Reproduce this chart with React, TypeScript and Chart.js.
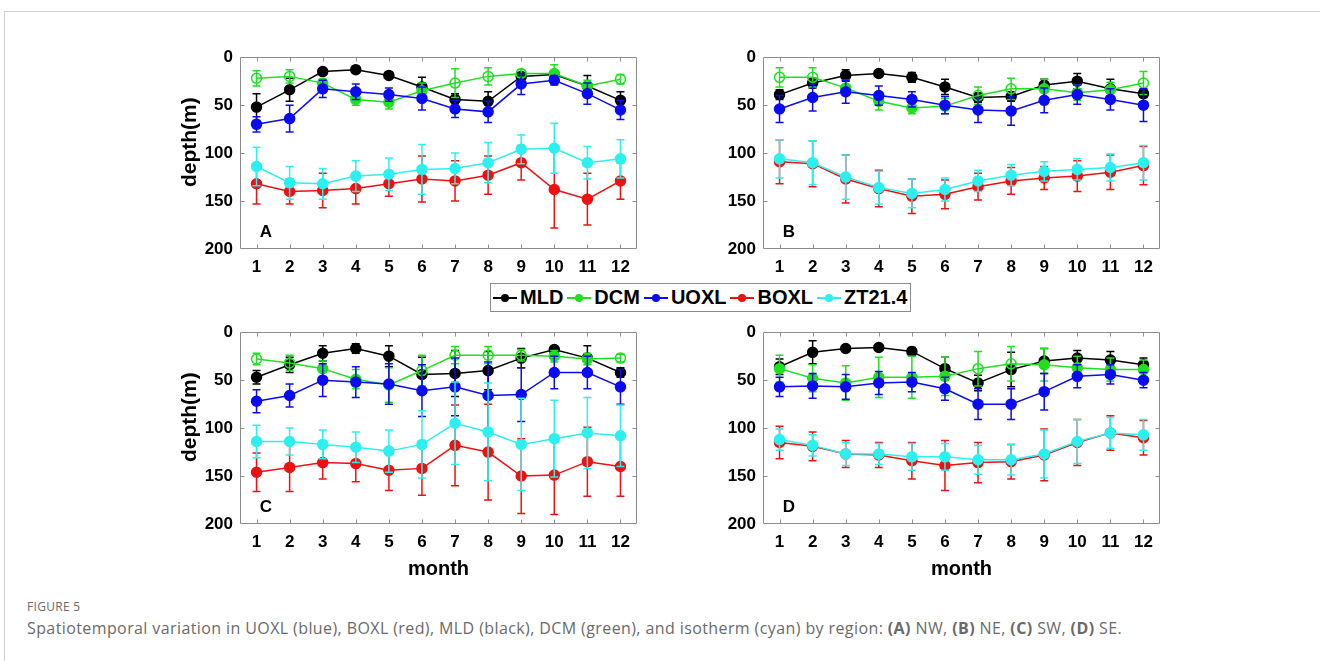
import { useEffect, useRef } from "react";
import { Chart, registerables } from "chart.js";

Chart.register(...registerables);

// ---- shared axis values ----
const MONTHS = [1, 2, 3, 4, 5, 6, 7, 8, 9, 10, 11, 12];
const DEPTH_TICKS = [0, 50, 100, 150, 200];
const SERIES = ["MLD", "DCM", "UOXL", "BOXL", "ZT21.4"];
const COLORS = ["#000000", "#1fe01f", "#0b0bf0", "#ee1111", "#2cf0f0"];

// ---- (A) NW ----
const A_MLD = [52, 34, 15, 13, 19, 31, 44, 46, 20, 18, 30, 45];
const A_MLD_ERR = [14, 12, 3, 2, 3, 10, 6, 10, 4, 4, 11, 9];
const A_DCM = [22, 20, 27, 44, 47, 35, 27, 20, 17, 17, 30, 23];
const A_DCM_ERR = [8, 7, 4, 6, 7, 8, 15, 9, 4, 9, 6, 5];
const A_DCM_OPEN = [1, 1, 0, 0, 0, 0, 1, 1, 1, 0, 0, 1];
const A_UOXL = [70, 64, 33, 36, 39, 43, 54, 57, 28, 24, 38, 55];
const A_UOXL_ERR = [8, 14, 9, 8, 7, 12, 9, 11, 11, 5, 11, 10];
const A_BOXL = [132, 140, 139, 137, 132, 127, 129, 123, 110, 138, 148, 129];
const A_BOXL_ERR = [21, 13, 18, 16, 13, 24, 21, 20, 18, 40, 27, 19];
const A_ZT = [114, 131, 132, 124, 122, 117, 116, 110, 96, 95, 110, 106];
const A_ZT_ERR = [20, 17, 16, 16, 17, 26, 16, 21, 15, 26, 17, 20];

// ---- (B) NE ----
const B_MLD = [39, 27, 19, 17, 21, 31, 42, 41, 29, 25, 33, 38];
const B_MLD_ERR = [5, 5, 6, 2, 5, 8, 5, 5, 6, 8, 10, 4];
const B_DCM = [21, 21, 32, 46, 53, 51, 40, 33, 33, 37, 34, 27];
const B_DCM_ERR = [10, 10, 8, 9, 6, 8, 9, 11, 10, 8, 8, 12];
const B_DCM_OPEN = [1, 1, 0, 0, 0, 0, 1, 1, 0, 0, 0, 1];
const B_UOXL = [54, 42, 36, 40, 44, 50, 55, 56, 45, 39, 44, 50];
const B_UOXL_ERR = [14, 14, 12, 10, 8, 9, 13, 15, 13, 10, 11, 17];
const B_BOXL = [109, 111, 127, 137, 145, 143, 135, 129, 126, 124, 120, 113];
const B_BOXL_ERR = [23, 24, 25, 19, 18, 15, 14, 14, 12, 16, 18, 20];
const B_ZT = [106, 110, 125, 136, 142, 138, 129, 123, 119, 117, 115, 110];
const B_ZT_ERR = [20, 23, 23, 17, 15, 12, 11, 11, 10, 11, 14, 18];

// ---- (C) SW ----
const C_MLD = [47, 34, 22, 17, 25, 44, 43, 40, 27, 18, 27, 42];
const C_MLD_ERR = [7, 8, 8, 5, 11, 18, 24, 20, 10, 3, 13, 5];
const C_DCM = [28, 32, 38, 49, 55, 40, 24, 24, 24, 25, 28, 27];
const C_DCM_ERR = [6, 8, 8, 10, 18, 16, 9, 9, 6, 6, 6, 4];
const C_DCM_OPEN = [1, 1, 0, 0, 0, 1, 1, 1, 1, 0, 0, 1];
const C_UOXL = [72, 66, 50, 52, 54, 61, 57, 66, 65, 42, 42, 57];
const C_UOXL_ERR = [12, 12, 17, 16, 21, 27, 30, 35, 28, 17, 17, 18];
const C_BOXL = [146, 141, 136, 137, 144, 142, 118, 125, 150, 149, 135, 140];
const C_BOXL_ERR = [20, 25, 17, 19, 21, 28, 42, 50, 39, 41, 36, 31];
const C_ZT = [114, 114, 117, 120, 124, 117, 95, 104, 117, 111, 105, 108];
const C_ZT_ERR = [17, 14, 15, 16, 22, 35, 43, 51, 48, 40, 37, 32];

// ---- (D) SE ----
const D_MLD = [36, 21, 17, 16, 20, 38, 53, 39, 30, 27, 29, 34];
const D_MLD_ERR = [8, 12, 3, 2, 4, 12, 8, 18, 13, 8, 9, 7];
const D_DCM = [38, 48, 53, 47, 47, 46, 38, 33, 34, 37, 39, 39];
const D_DCM_ERR = [14, 14, 18, 21, 22, 20, 18, 18, 17, 12, 12, 10];
const D_DCM_OPEN = [0, 0, 0, 0, 0, 0, 1, 1, 0, 0, 0, 0];
const D_UOXL = [57, 56, 57, 53, 52, 59, 75, 75, 62, 46, 44, 50];
const D_UOXL_ERR = [10, 13, 13, 12, 10, 12, 16, 16, 19, 12, 10, 8];
const D_BOXL = [115, 119, 127, 128, 134, 139, 136, 135, 128, 115, 105, 110];
const D_BOXL_ERR = [17, 15, 14, 13, 19, 26, 21, 18, 27, 24, 18, 18];
const D_ZT = [112, 118, 127, 127, 130, 130, 133, 133, 127, 114, 105, 107];
const D_ZT_ERR = [11, 11, 12, 11, 14, 14, 15, 16, 25, 23, 16, 16];

const FONT = '"Liberation Sans", Arial, Helvetica, sans-serif';

type PanelDef = {
  letter: string;
  means: number[][];
  errs: number[][];
  dcmOpen: number[];
  left: number; // plot-area left edge on the page
  top: number; // plot-area top edge on the page
  showDepthTitle: boolean;
  showMonthTitle: boolean;
};

const PLOT_W = 397;
const PLOT_H = 197;
const Y_AXIS_W = 75;
const PAD_TOP = 12;
const PAD_RIGHT = 10;

const PANELS: PanelDef[] = [
  {
    letter: "A",
    means: [A_MLD, A_DCM, A_UOXL, A_BOXL, A_ZT],
    errs: [A_MLD_ERR, A_DCM_ERR, A_UOXL_ERR, A_BOXL_ERR, A_ZT_ERR],
    dcmOpen: A_DCM_OPEN,
    left: 240,
    top: 52,
    showDepthTitle: true,
    showMonthTitle: false,
  },
  {
    letter: "B",
    means: [B_MLD, B_DCM, B_UOXL, B_BOXL, B_ZT],
    errs: [B_MLD_ERR, B_DCM_ERR, B_UOXL_ERR, B_BOXL_ERR, B_ZT_ERR],
    dcmOpen: B_DCM_OPEN,
    left: 763,
    top: 52,
    showDepthTitle: false,
    showMonthTitle: false,
  },
  {
    letter: "C",
    means: [C_MLD, C_DCM, C_UOXL, C_BOXL, C_ZT],
    errs: [C_MLD_ERR, C_DCM_ERR, C_UOXL_ERR, C_BOXL_ERR, C_ZT_ERR],
    dcmOpen: C_DCM_OPEN,
    left: 240,
    top: 327,
    showDepthTitle: true,
    showMonthTitle: true,
  },
  {
    letter: "D",
    means: [D_MLD, D_DCM, D_UOXL, D_BOXL, D_ZT],
    errs: [D_MLD_ERR, D_DCM_ERR, D_UOXL_ERR, D_BOXL_ERR, D_ZT_ERR],
    dcmOpen: D_DCM_OPEN,
    left: 763,
    top: 327,
    showDepthTitle: false,
    showMonthTitle: true,
  },
];

// Vertical error bars with caps, drawn just before each dataset's line and markers
const errorBars = {
  id: "errorBars",
  beforeDatasetDraw(chart: any, args: any) {
    const ds: any = chart.data.datasets[args.index];
    const errs: number[] | undefined = ds.errors;
    if (!errs) return;
    const { ctx } = chart;
    const xs = chart.scales.x;
    const ys = chart.scales.y;
    const cap = 4;
    ctx.save();
    ctx.strokeStyle = ds.borderColor;
    ctx.lineWidth = 1.5;
    ctx.beginPath();
    ds.data.forEach((p: { x: number; y: number }, i: number) => {
      const x = xs.getPixelForValue(p.x);
      const y0 = ys.getPixelForValue(p.y - errs[i]);
      const y1 = ys.getPixelForValue(p.y + errs[i]);
      ctx.moveTo(x, y0);
      ctx.lineTo(x, y1);
      ctx.moveTo(x - cap, y0);
      ctx.lineTo(x + cap, y0);
      ctx.moveTo(x - cap, y1);
      ctx.lineTo(x + cap, y1);
    });
    ctx.stroke();
    ctx.restore();
  },
};

// Box around the plot area with inward tick marks on all four sides,
// the panel letter and the rotated depth axis title
const boxFrame = {
  id: "boxFrame",
  beforeDatasetsDraw(chart: any) {
    const { ctx, chartArea: a } = chart;
    const xs = chart.scales.x;
    const ys = chart.scales.y;
    const L = Math.round(a.left) + 0.5;
    const R = Math.round(a.right) - 0.5;
    const T = Math.round(a.top) + 0.5;
    const B = Math.round(a.bottom) - 0.5;
    const tick = 4;
    ctx.save();
    ctx.strokeStyle = "#8c8c8c";
    ctx.lineWidth = 1;
    ctx.beginPath();
    ctx.rect(L, T, R - L, B - T);
    MONTHS.forEach((m) => {
      const x = Math.round(xs.getPixelForValue(m)) + 0.5;
      ctx.moveTo(x, B);
      ctx.lineTo(x, B - tick);
      ctx.moveTo(x, T);
      ctx.lineTo(x, T + tick);
    });
    DEPTH_TICKS.slice(1, -1).forEach((d) => {
      const y = Math.round(ys.getPixelForValue(d)) + 0.5;
      ctx.moveTo(L, y);
      ctx.lineTo(L + tick, y);
      ctx.moveTo(R, y);
      ctx.lineTo(R - tick, y);
    });
    ctx.stroke();
    ctx.restore();
  },
  afterDatasetsDraw(chart: any, _args: any, opts: any) {
    const { ctx, chartArea: a } = chart;
    ctx.save();
    ctx.fillStyle = "#000";
    ctx.font = `bold 17px ${FONT}`;
    ctx.textAlign = "center";
    ctx.textBaseline = "middle";
    ctx.fillText(opts.letter, a.left + 26, a.bottom - 17);
    if (opts.depthTitle) {
      ctx.translate(a.left - 50, a.top + 85);
      ctx.rotate(-Math.PI / 2);
      ctx.font = `bold 21px ${FONT}`;
      ctx.fillText(opts.depthTitle, 0, 0);
    }
    ctx.restore();
  },
};

function Panel({ def }: { def: PanelDef }) {
  const ref = useRef<HTMLCanvasElement | null>(null);
  const bottomH = def.showMonthTitle ? 58 : 40;
  const width = Y_AXIS_W + PLOT_W + PAD_RIGHT;
  const height = PAD_TOP + PLOT_H + bottomH;

  useEffect(() => {
    if (!ref.current) return;
    const datasets = SERIES.map((name, si) => {
      const color = COLORS[si];
      const fills = MONTHS.map((_, i) =>
        si === 1 && def.dcmOpen[i] ? "rgba(255,255,255,0)" : color
      );
      return {
        label: name,
        data: MONTHS.map((m, i) => ({ x: m, y: def.means[si][i] })),
        errors: def.errs[si],
        borderColor: color,
        backgroundColor: color,
        pointBackgroundColor: fills,
        pointBorderColor: color,
        pointRadius: 5,
        pointBorderWidth: 1.5,
        borderWidth: 1.5,
        tension: 0,
        order: SERIES.length - si,
      };
    });

    const tickFont = { family: FONT, size: 17, weight: "bold" as const };
    const titleFont = { family: FONT, size: 20, weight: "bold" as const };

    const chart = new Chart(ref.current, {
      type: "line",
      data: { datasets: datasets as any },
      plugins: [errorBars, boxFrame],
      options: {
        animation: false,
        responsive: false,
        maintainAspectRatio: false,
        devicePixelRatio: 1,
        layout: { padding: { top: PAD_TOP, right: PAD_RIGHT, left: 0, bottom: 0 } },
        plugins: {
          legend: { display: false },
          tooltip: { enabled: false },
          boxFrame: { letter: def.letter, depthTitle: def.showDepthTitle ? "depth(m)" : "" },
        } as any,
        scales: {
          x: {
            type: "linear",
            min: 0.5,
            max: 12.5,
            afterBuildTicks: (s: any) => {
              s.ticks = MONTHS.map((v) => ({ value: v }));
            },
            afterFit: (s: any) => {
              s.height = bottomH;
            },
            grid: { display: false, drawTicks: false },
            border: { display: false },
            ticks: { font: tickFont, color: "#000", padding: 8, autoSkip: false, maxRotation: 0 },
            title: {
              display: def.showMonthTitle,
              text: "month",
              font: titleFont,
              color: "#000",
              padding: { top: 0, bottom: 1 },
            },
          },
          y: {
            type: "linear",
            min: 0,
            max: 200,
            reverse: true,
            afterBuildTicks: (s: any) => {
              s.ticks = DEPTH_TICKS.map((v) => ({ value: v }));
            },
            afterFit: (s: any) => {
              s.width = Y_AXIS_W;
            },
            grid: { display: false, drawTicks: false },
            border: { display: false },
            ticks: { font: tickFont, color: "#000", padding: 7 },
          },
        },
      },
    });
    return () => chart.destroy();
  }, [def, bottomH]);

  return (
    <canvas
      ref={ref}
      width={width}
      height={height}
      style={{
        position: "absolute",
        left: def.left - Y_AXIS_W,
        top: def.top - PAD_TOP,
        width,
        height,
      }}
    />
  );
}

function Legend() {
  return (
    <div
      style={{
        position: "absolute",
        left: 490,
        top: 283,
        width: 417,
        height: 27,
        border: "1px solid #8c8c8c",
        background: "#fff",
        display: "flex",
        alignItems: "center",
        paddingLeft: 2,
        font: `bold 20px ${FONT}`,
        color: "#000",
        whiteSpace: "nowrap",
      }}
    >
      {SERIES.map((name, i) => (
        <span key={name} style={{ display: "flex", alignItems: "center", marginRight: 4 }}>
          <span
            style={{
              position: "relative",
              display: "inline-block",
              width: 24,
              height: 2,
              background: COLORS[i],
            }}
          >
            <span
              style={{
                position: "absolute",
                left: 8,
                top: -3,
                width: 8,
                height: 8,
                borderRadius: "50%",
                background: COLORS[i],
              }}
            />
          </span>
          <span style={{ marginLeft: 3 }}>{name}</span>
        </span>
      ))}
    </div>
  );
}

export default function App() {
  useEffect(() => {
    document.body.style.margin = "0";
    document.body.style.background = "#fff";
  }, []);

  return (
    <div style={{ position: "relative", width: 1320, height: 661, overflow: "hidden", background: "#fff" }}>
      <div
        style={{
          position: "absolute",
          left: 4,
          top: 11,
          right: 0,
          bottom: 0,
          borderTop: "1px solid #cfcfcf",
          borderLeft: "1px solid #cfcfcf",
        }}
      />
      {PANELS.map((p) => (
        <Panel key={p.letter} def={p} />
      ))}
      <Legend />
      <div
        style={{
          position: "absolute",
          left: 27,
          top: 598,
          font: `12px "Open Sans", "Noto Sans", sans-serif`,
          color: "#6a6a6a",
          letterSpacing: 0.3,
        }}
      >
        FIGURE 5
      </div>
      <div
        style={{
          position: "absolute",
          left: 27,
          top: 617,
          font: `16px "Open Sans", "Noto Sans", sans-serif`,
          color: "#6a6a6a",
          letterSpacing: 0.4,
          whiteSpace: "nowrap",
        }}
      >
        Spatiotemporal variation in UOXL (blue), BOXL (red), MLD (black), DCM (green), and isotherm (cyan) by
        region: <b>(A)</b> NW, <b>(B)</b> NE, <b>(C)</b> SW, <b>(D)</b> SE.
      </div>
    </div>
  );
}
